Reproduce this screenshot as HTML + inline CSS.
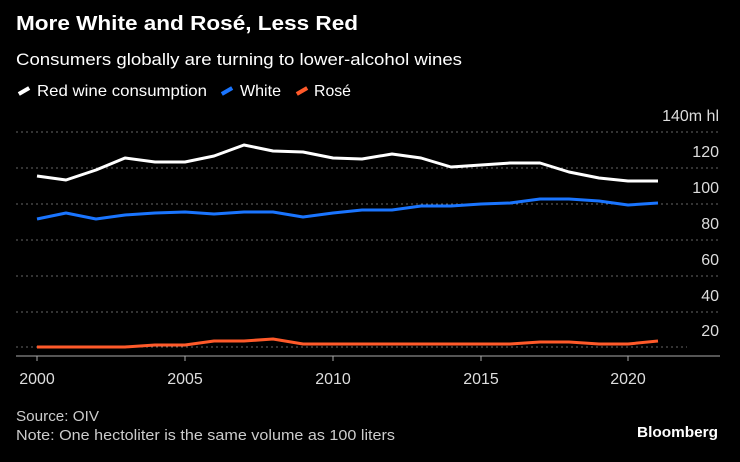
<!DOCTYPE html>
<html><head><style>
body{margin:0;background:#000;width:740px;height:457px;overflow:hidden;font-family:"Liberation Sans",sans-serif;}
</style></head><body>
<svg width="740" height="457" xmlns="http://www.w3.org/2000/svg" font-family="Liberation Sans, sans-serif">
<rect width="740" height="457" fill="#000"/>
<text x="16" y="30" fill="#fff" font-size="20" font-weight="bold" textLength="342" lengthAdjust="spacingAndGlyphs">More White and Rosé, Less Red</text>
<text x="16" y="65" fill="#fff" font-size="17" textLength="446" lengthAdjust="spacingAndGlyphs">Consumers globally are turning to lower-alcohol wines</text>
<line x1="18" y1="91" x2="30" y2="91" stroke="#fff" stroke-width="4" transform="rotate(-30 24 91)"/>
<text x="37" y="96" fill="#fff" font-size="16" textLength="170" lengthAdjust="spacingAndGlyphs">Red wine consumption</text>
<line x1="221" y1="91" x2="233" y2="91" stroke="#1a75ff" stroke-width="4" transform="rotate(-30 227 91)"/>
<text x="240" y="96" fill="#fff" font-size="16" textLength="41" lengthAdjust="spacingAndGlyphs">White</text>
<line x1="296" y1="91" x2="308" y2="91" stroke="#ff5a2a" stroke-width="4" transform="rotate(-30 302 91)"/>
<text x="314" y="96" fill="#fff" font-size="16" textLength="37" lengthAdjust="spacingAndGlyphs">Rosé</text>
<g stroke="#666" stroke-dasharray="2,3" stroke-width="1">
<line x1="16" y1="132" x2="720" y2="132"/><line x1="16" y1="168" x2="720" y2="168"/>
<line x1="16" y1="204" x2="720" y2="204"/><line x1="16" y1="240" x2="720" y2="240"/>
<line x1="16" y1="276" x2="720" y2="276"/><line x1="16" y1="312" x2="720" y2="312"/>
<line x1="16" y1="347" x2="687" y2="347"/>
</g>
<g fill="#ddd" font-size="16" text-anchor="end">
<text x="719" y="121">140m hl</text><text x="719" y="157">120</text><text x="719" y="193">100</text>
<text x="719" y="229">80</text><text x="719" y="265">60</text><text x="719" y="301">40</text><text x="719" y="336">20</text>
</g>
<line x1="16" y1="356" x2="720" y2="356" stroke="#aaa" stroke-width="1"/>
<g stroke="#aaa"><line x1="37" y1="356" x2="37" y2="361"/><line x1="185" y1="356" x2="185" y2="361"/><line x1="333" y1="356" x2="333" y2="361"/><line x1="481" y1="356" x2="481" y2="361"/><line x1="628" y1="356" x2="628" y2="361"/></g>
<g fill="#ddd" font-size="16" text-anchor="middle">
<text x="37" y="384">2000</text><text x="185" y="384">2005</text><text x="333" y="384">2010</text><text x="481" y="384">2015</text><text x="628" y="384">2020</text>
</g>
<g fill="none" stroke-width="3" stroke-linejoin="round">
<polyline stroke="#fff" points="37,176 66,180 96,170 125,158 155,162 185,162 214,156 244,145 273,151 303,152 333,158 362,159 392,154 421,158 451,167 481,165 510,163 540,163 569,172 599,178 628,181 658,181"/>
<polyline stroke="#1a75ff" points="37,219 66,213 96,219 125,215 155,213 185,212 214,214 244,212 273,212 303,217 333,213 362,210 392,210 421,206 451,206 481,204 510,203 540,199 569,199 599,201 628,205 658,203"/>
<polyline stroke="#ff5a2a" points="37,347 66,347 96,347 125,347 155,345 185,345 214,341 244,341 273,339 303,344 333,344 362,344 392,344 421,344 451,344 481,344 510,344 540,342 569,342 599,344 628,344 658,341"/>
</g>
<text x="16" y="421" fill="#ccc" font-size="15" textLength="83" lengthAdjust="spacingAndGlyphs">Source: OIV</text>
<text x="16" y="440" fill="#ccc" font-size="15" textLength="379" lengthAdjust="spacingAndGlyphs">Note: One hectoliter is the same volume as 100 liters</text>
<text x="718" y="437" fill="#fff" font-size="15" font-weight="bold" text-anchor="end" textLength="81" lengthAdjust="spacingAndGlyphs">Bloomberg</text>
</svg>
</body></html>
